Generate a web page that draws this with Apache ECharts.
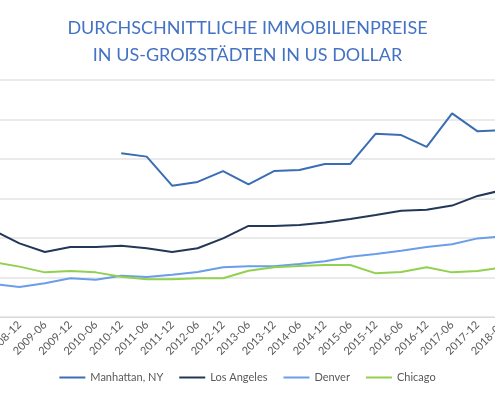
<!DOCTYPE html>
<html>
<head>
<meta charset="utf-8">
<script src="https://cdn.jsdelivr.net/npm/echarts@6/dist/echarts.min.js"></script>
<style>html,body{margin:0;padding:0;background:#fff}#chart{width:495px;height:400px}</style>
</head>
<body>
<div id="chart"></div>
<script>
// Durchschnittspreise in Tsd. USD (aus dem Bild geschätzt)
const months = ['2008-06', '2008-12', '2009-06', '2009-12', '2010-06', '2010-12', '2011-06', '2011-12',
    '2012-06', '2012-12', '2013-06', '2013-12', '2014-06', '2014-12', '2015-06', '2015-12',
    '2016-06', '2016-12', '2017-06', '2017-12', '2018-06'];

const manhattan = [null, null, null, null, null, 829, 812, 665, 684, 739, 672, 739, 744, 775, 775, 928, 921, 861, 1031, 940, 947];
const losAngeles = [437, 373, 329, 354, 354, 361, 348, 329, 348, 398, 461, 461, 466, 478, 496, 516, 538, 543, 564, 613, 643];
const denver = [167, 152, 171, 196, 189, 209, 203, 214, 228, 252, 257, 257, 268, 282, 305, 319, 336, 354, 368, 398, 409];
const chicago = [278, 255, 226, 233, 226, 204, 191, 191, 196, 196, 234, 252, 258, 263, 263, 221, 228, 252, 226, 233, 252];

let myChart = echarts.init(document.getElementById('chart'));

let line = function (name, data, color) {
    return {
        name: name,
        type: 'line',
        data: data,
        showSymbol: false,
        symbol: 'none',
        lineStyle: {width: 2, color: color},
        itemStyle: {color: color}
    };
};

let option = {
    animation: false,
    title: {
        text: 'DURCHSCHNITTLICHE IMMOBILIENPREISE\nIN US-GROẞSTÄDTEN IN US DOLLAR',
        left: 'center',
        top: 10,
        textStyle: {
            color: '#4472c4',
            fontFamily: 'Lato',
            fontWeight: 'normal',
            fontSize: 18,
            lineHeight: 27
        }
    },
    legend: {
        bottom: 12,
        left: 'center',
        itemWidth: 26,
        itemHeight: 2,
        itemGap: 16,
        icon: 'rect',
        textStyle: {color: '#595959', fontFamily: 'Lato', fontSize: 11}
    },
    grid: {left: -6, right: -8, top: 80, bottom: 83, containLabel: false, outerBoundsMode: 'none'},
    xAxis: {
        type: 'category',
        data: months,
        boundaryGap: false,
        axisLine: {lineStyle: {color: '#d9d9d9'}},
        axisTick: {show: false},
        axisLabel: {rotate: 45, color: '#595959', fontFamily: 'Lato', fontSize: 11, interval: 0, margin: 6,
            showMinLabel: true, showMaxLabel: true}
    },
    yAxis: {
        type: 'value',
        min: 0,
        max: 1200,
        interval: 200,
        axisLabel: {show: false},
        axisLine: {show: false},
        splitLine: {lineStyle: {color: '#e3e3e3', width: 1.5}}
    },
    series: [
        line('Manhattan, NY', manhattan, '#3a6db5'),
        line('Los Angeles', losAngeles, '#233759'),
        line('Denver', denver, '#6a9ee8'),
        line('Chicago', chicago, '#92d050')
    ]
};

myChart.setOption(option);
</script>
</body>
</html>
